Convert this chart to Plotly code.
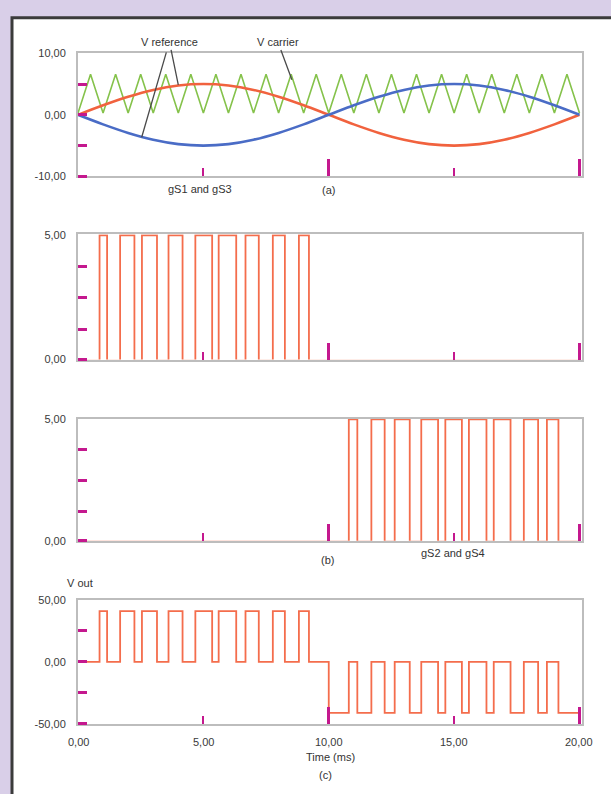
import plotly.graph_objects as go

W, H = 611, 794

# ---------------- data ----------------
# (a) reference sinusoids, sampled every 1 ms
ref_t = [0, 1, 2, 3, 4, 5, 6, 7, 8, 9, 10, 11, 12, 13, 14, 15, 16, 17, 18, 19, 20]
v_ref_pos = [0, 1.55, 2.94, 4.05, 4.76, 5.0, 4.76, 4.05, 2.94, 1.55, 0,
             -1.55, -2.94, -4.05, -4.76, -5.0, -4.76, -4.05, -2.94, -1.55, 0]
v_ref_neg = [0, -1.55, -2.94, -4.05, -4.76, -5.0, -4.76, -4.05, -2.94, -1.55, 0,
             1.55, 2.94, 4.05, 4.76, 5.0, 4.76, 4.05, 2.94, 1.55, 0]

# (a) triangular carrier: vertices every 0.5 ms
carrier_t = [0, 0.5, 1, 1.5, 2, 2.5, 3, 3.5, 4, 4.5, 5, 5.5, 6, 6.5, 7, 7.5, 8, 8.5, 9, 9.5, 10,
             10.5, 11, 11.5, 12, 12.5, 13, 13.5, 14, 14.5, 15, 15.5, 16, 16.5, 17, 17.5, 18, 18.5,
             19, 19.5, 20]
carrier_v = [0.3, 6.6, 0.3, 6.6, 0.3, 6.6, 0.3, 6.6, 0.3, 6.6, 0.3, 6.6, 0.3, 6.6, 0.3, 6.6,
             0.3, 6.6, 0.3, 6.6, 0.3, 6.6, 0.3, 6.6, 0.3, 6.6, 0.3, 6.6, 0.3, 6.6, 0.3, 6.6,
             0.3, 6.6, 0.3, 6.6, 0.3, 6.6, 0.3, 6.6, 0.3]

# gate pulses (switch-on / switch-off instants, ms)
gs13_on = [0.86, 1.68, 2.55, 3.61, 4.68, 5.61, 6.68, 7.77, 8.81]
gs13_off = [1.16, 2.25, 3.15, 4.17, 5.35, 6.31, 7.21, 8.25, 9.21]
gs24_on = [10.80, 11.70, 12.63, 13.69, 14.65, 15.59, 16.58, 17.78, 18.70]
gs24_off = [11.14, 12.23, 13.23, 14.36, 15.31, 16.29, 17.25, 18.35, 19.16]
gate_high = 5.0
vout_level = 41.0

# ticks / labels
x_long_ticks = [10, 20]
x_short_ticks = [5, 15]
x_label_vals = [0, 5, 10, 15, 20]
x_label_text = ["0,00", "5,00", "10,00", "15,00", "20,00"]

# ---------------- build step traces ----------------
def gate_steps(on, off, high):
    xs, ys = [0], [0]
    for a, b in zip(on, off):
        xs += [a, b]
        ys += [high, 0]
    xs.append(20)
    ys.append(0)
    return xs, ys

g1x, g1y = gate_steps(gs13_on, gs13_off, gate_high)
g2x, g2y = gate_steps(gs24_on, gs24_off, gate_high)

vx, vy = [0], [0]
for a, b in zip(gs13_on, gs13_off):
    vx += [a, b]
    vy += [vout_level, 0]
vx.append(10)
vy.append(-vout_level)
for a, b in zip(gs24_on, gs24_off):
    vx += [a, b]
    vy += [0, -vout_level]
vx.append(20)
vy.append(-vout_level)

# ---------------- figure ----------------
RED = "#f1623e"
PULSE = "#f46d4c"
BLUE = "#4a6cc6"
GREEN = "#85c24b"
MAG = "#c4188e"
FRAME = "#bdbdbd"
BG = "#d9cfe8"

fig = go.Figure()
fig.add_trace(go.Scatter(x=carrier_t, y=carrier_v, mode="lines", line=dict(color=GREEN, width=1.6),
                         xaxis="x", yaxis="y", name="V carrier"))
fig.add_trace(go.Scatter(x=ref_t, y=v_ref_pos, mode="lines", line=dict(color=RED, width=2.6, shape="spline"),
                         xaxis="x", yaxis="y", name="V reference +"))
fig.add_trace(go.Scatter(x=ref_t, y=v_ref_neg, mode="lines", line=dict(color=BLUE, width=2.6, shape="spline"),
                         xaxis="x", yaxis="y", name="V reference -"))
fig.add_trace(go.Scatter(x=g1x, y=g1y, mode="lines", line=dict(color=PULSE, width=1.8, shape="hv"),
                         xaxis="x2", yaxis="y2", name="gS1 and gS3"))
fig.add_trace(go.Scatter(x=g2x, y=g2y, mode="lines", line=dict(color=PULSE, width=1.8, shape="hv"),
                         xaxis="x3", yaxis="y3", name="gS2 and gS4"))
fig.add_trace(go.Scatter(x=vx, y=vy, mode="lines", line=dict(color=PULSE, width=1.8, shape="hv"),
                         xaxis="x4", yaxis="y4", name="V out"))

px0, px1 = 78, 582
xdom = [px0 / W, px1 / W]
x_range = [0, 20.1]
panels = [  # (top px, bottom px)
    (48, 173), (232, 359), (419, 543), (603, 729)
]
y_ranges = [[-10, 10], [0.04, 5.03], [0.04, 5.03], [-50, 50]]
y_label_vals = [[-10, 0, 10], [0.04, 5], [0.04, 5], [-50, 0, 50]]
y_label_text = [["-10,00", "0,00", "10,00"], ["0,00", "5,00"], ["0,00", "5,00"], ["-50,00", "0,00", "50,00"]]
y_marks = [[-10, -5, 0, 5], [0.04, 1.25, 2.5, 3.75], [0.04, 1.25, 2.5, 3.75], [-50, -25, 0, 25]]

layout = {}
for i, (top, bot) in enumerate(panels, start=1):
    sfx = "" if i == 1 else str(i)
    layout["xaxis" + sfx] = dict(
        domain=xdom, anchor="y" + sfx, range=x_range, showgrid=False, zeroline=False,
        showline=True, mirror=True, linecolor=FRAME, linewidth=2,
        tickmode="array", tickvals=x_short_ticks, ticks="inside", ticklen=8, tickwidth=2, tickcolor=MAG,
        showticklabels=False,
        minor=dict(tickmode="array", tickvals=x_long_ticks, ticks="inside", ticklen=17, tickwidth=3, tickcolor=MAG),
    )
    layout["yaxis" + sfx] = dict(
        domain=[1 - bot / H, 1 - top / H], anchor="x" + sfx, range=y_ranges[i - 1],
        showgrid=False, zeroline=False, showline=True, mirror=True, linecolor=FRAME, linewidth=2,
        tickmode="array", tickvals=y_label_vals[i - 1], ticktext=y_label_text[i - 1],
        ticks="outside", ticklen=1, tickcolor="rgba(0,0,0,0)", ticklabelstandoff=7,
        tickfont=dict(size=11, color="#3a3a3a"),
        minor=dict(tickmode="array", tickvals=y_marks[i - 1], ticks="inside", ticklen=9, tickwidth=3, tickcolor=MAG),
    )
fig.update_layout(**layout)

# ---------------- background card ----------------
fig.add_shape(type="rect", xref="paper", yref="paper", x0=12 / W, x1=1.05, y0=-0.05, y1=1 - 12 / H,
              fillcolor="white", line=dict(color="#3b3b3b", width=3), layer="below")

# ---------------- annotations ----------------
def pxx(x):
    return x / W


def pxy(y):
    return 1 - y / H

txt = dict(size=11, color="#333333")
# time tick labels under the bottom panel
for v, t in zip(x_label_vals, x_label_text):
    fig.add_annotation(x=v, y=pxy(747), xref="x4", yref="paper", text=t, showarrow=False,
                       xanchor="center", yanchor="middle", font=dict(size=11, color="#3a3a3a"))

# leader lines (V reference -> both references, V carrier -> carrier)
fig.add_annotation(x=4.0, y=4.88, xref="x", yref="y", ax=3.65, ay=11.76, axref="x", ayref="y",
                   text="V reference", showarrow=True, arrowhead=0, arrowwidth=1.3, arrowcolor="#4a4a4a",
                   standoff=0, startstandoff=0, font=txt)
fig.add_annotation(x=2.54, y=-3.65, xref="x", yref="y", ax=3.54, ay=10.4, axref="x", ayref="y",
                   text="", showarrow=True, arrowhead=0, arrowwidth=1.3, arrowcolor="#4a4a4a",
                   standoff=0, startstandoff=0)
fig.add_annotation(x=8.53, y=5.7, xref="x", yref="y", ax=7.98, ay=11.76, axref="x", ayref="y",
                   text="V carrier", showarrow=True, arrowhead=0, arrowwidth=1.3, arrowcolor="#4a4a4a",
                   standoff=0, startstandoff=0, font=txt)

labels = [
    ("gS1 and gS3", 200, 186),
    ("(a)", 328, 187),
    ("(b)", 327, 563),
    ("gS2 and gS4", 453, 555),
    ("V out", 80, 586),
    ("Time (ms)", 330, 763),
    ("(c)", 325, 781),
]
for t, x, y in labels:
    fig.add_annotation(x=pxx(x), y=pxy(y), xref="paper", yref="paper", text=t, showarrow=False,
                       xanchor="center", yanchor="middle", font=txt)

fig.update_layout(
    width=W, height=H, margin=dict(l=0, r=0, t=0, b=0),
    paper_bgcolor=BG, plot_bgcolor="white", showlegend=False,
    font=dict(family="Liberation Sans, Arial, sans-serif", size=11, color="#333333"),
)

fig.write_html(
    "out.html",
    config={"displayModeBar": False},
    post_script="document.body.style.margin='0px';document.body.style.overflow='hidden';"
                "document.body.style.background='" + BG + "';",
)
